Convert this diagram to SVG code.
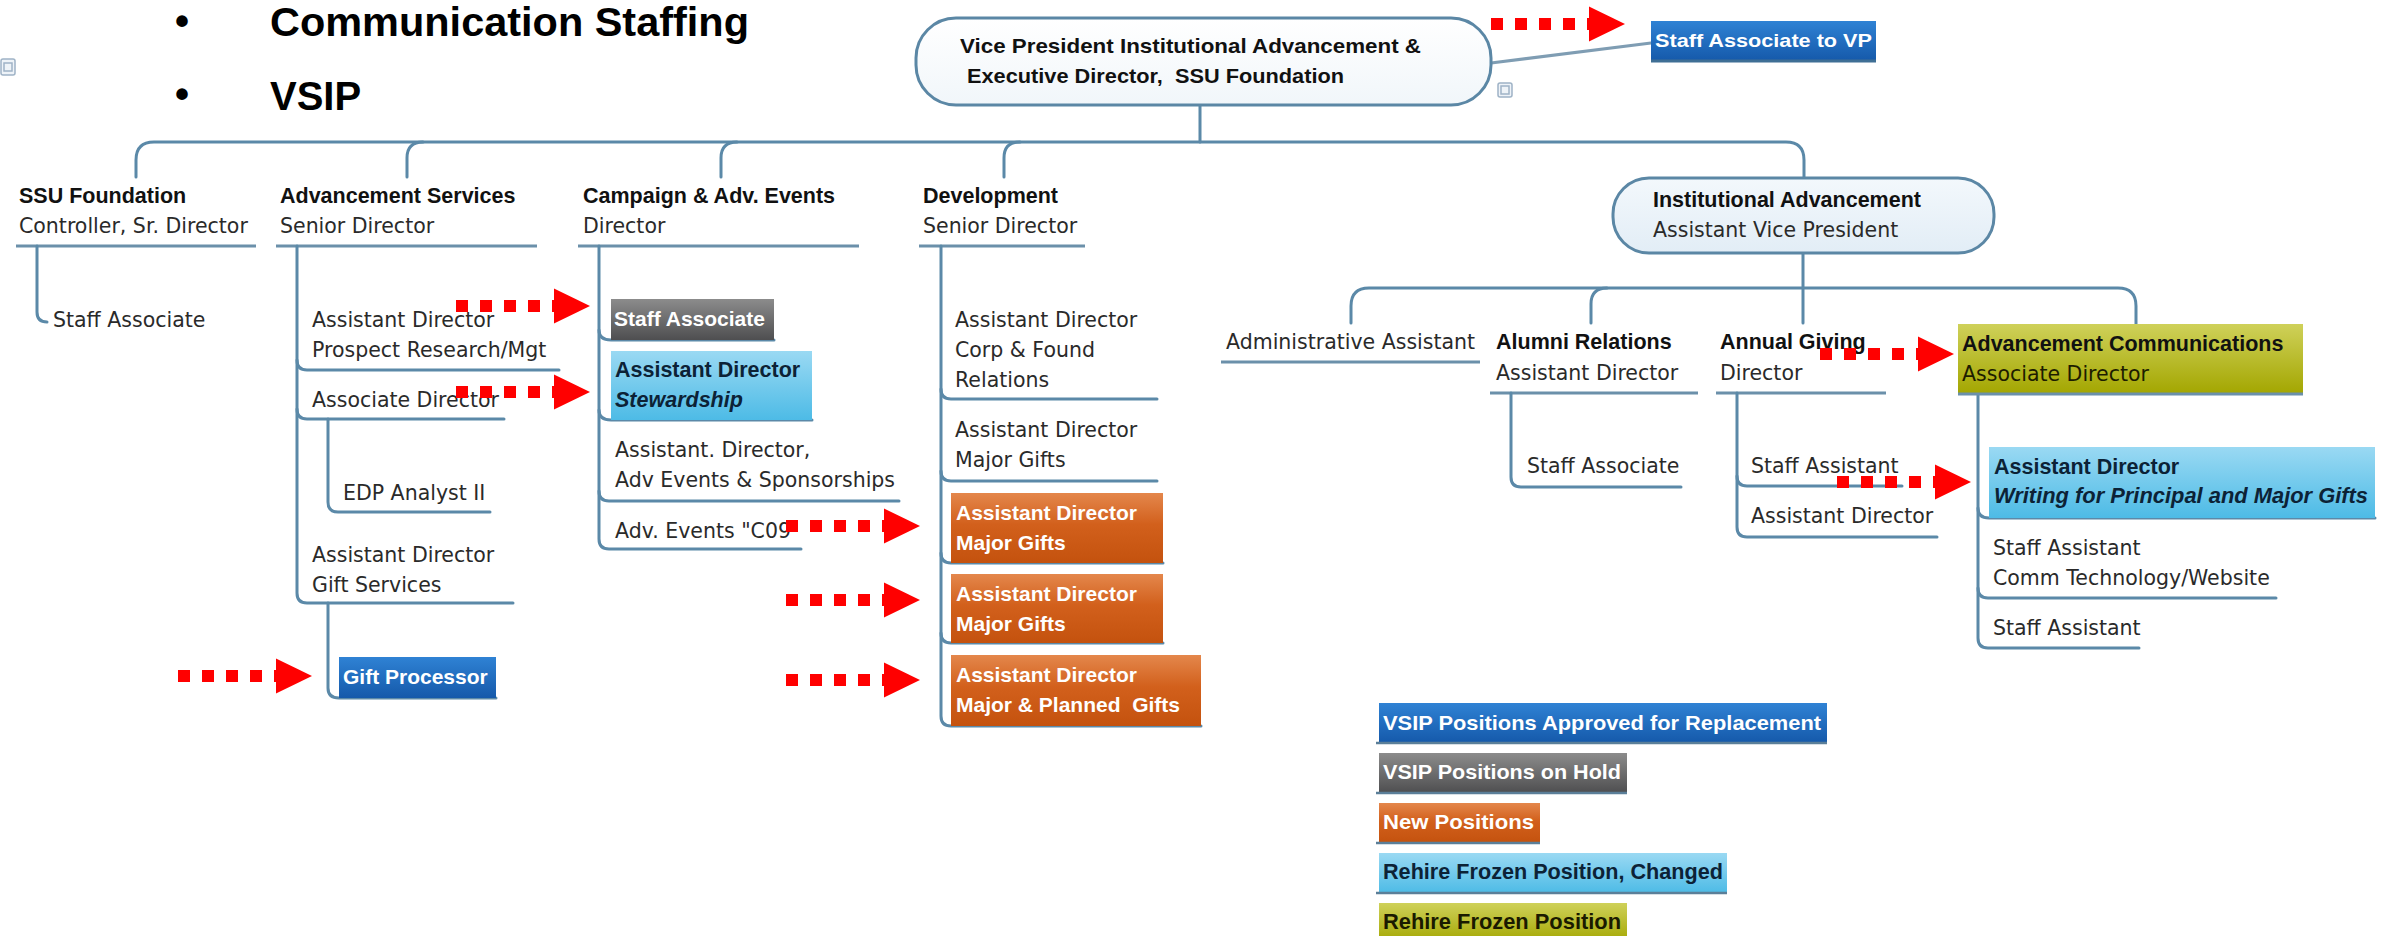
<svg xmlns="http://www.w3.org/2000/svg" width="2407" height="936" viewBox="0 0 2407 936">
<defs>
<style>
.reg{font-family:"DejaVu Sans","Liberation Sans",sans-serif;font-size:20.5px;fill:#2a2a2a}
.b{font-family:"Liberation Sans",Arial,sans-serif;font-size:21.5px;font-weight:bold;fill:#111}
.bw{font-family:"Liberation Sans",Arial,sans-serif;font-size:21px;font-weight:bold;fill:#fff}
.bd{font-family:"Liberation Sans",Arial,sans-serif;font-size:21.5px;font-weight:bold;fill:#0c2236}
.bi{font-style:italic}
.title{font-family:"Liberation Sans",Arial,sans-serif;font-size:40px;font-weight:bold;fill:#000}
.conn{fill:none;stroke:#5b89a8;stroke-width:3;stroke-linecap:round}
.ul{fill:none;stroke:#6b90aa;stroke-width:3}
.red{fill:none;stroke:#ff0000;stroke-width:12;stroke-dasharray:12 12}
.leg{fill:none;stroke:#5b7f99;stroke-width:2.5}
.icon{fill:#eef3f8;stroke:#9fb3c6;stroke-width:1.5}
</style>
<linearGradient id="gBlue" x1="0" y1="0" x2="0" y2="1"><stop offset="0" stop-color="#2f82d4"/><stop offset="1" stop-color="#1559aa"/></linearGradient>
<linearGradient id="gGray" x1="0" y1="0" x2="0" y2="1"><stop offset="0" stop-color="#8c8c8c"/><stop offset="1" stop-color="#4e4e50"/></linearGradient>
<linearGradient id="gOrange" x1="0" y1="0" x2="0" y2="1"><stop offset="0" stop-color="#e4874c"/><stop offset="0.45" stop-color="#d2601c"/><stop offset="1" stop-color="#c4520e"/></linearGradient>
<linearGradient id="gLBlue" x1="0" y1="0" x2="0" y2="1"><stop offset="0" stop-color="#9ad9f3"/><stop offset="1" stop-color="#4dbbe6"/></linearGradient>
<linearGradient id="gOlive" x1="0" y1="0" x2="0" y2="1"><stop offset="0" stop-color="#cfd15a"/><stop offset="1" stop-color="#a3a600"/></linearGradient>
<linearGradient id="gVP" x1="0" y1="0" x2="0" y2="1"><stop offset="0" stop-color="#ffffff"/><stop offset="1" stop-color="#f1f6fa"/></linearGradient>
<linearGradient id="gInst" x1="0" y1="0" x2="0" y2="1"><stop offset="0" stop-color="#f3f8fc"/><stop offset="1" stop-color="#e2edf6"/></linearGradient>
<marker id="ah" markerUnits="userSpaceOnUse" markerWidth="36" markerHeight="36" refX="0" refY="17.5" orient="auto" viewBox="0 0 36 35">
<path d="M0,0 L36,17.5 L0,35 Z" fill="#ff0000"/>
</marker>
</defs>
<rect width="2407" height="936" fill="#ffffff"/>

<g id="title">
<text class="title" x="175" y="35">•</text>
<text class="title" x="270" y="36" textLength="479" lengthAdjust="spacingAndGlyphs">Communication Staffing</text>
<text class="title" x="175" y="108">•</text>
<text class="title" x="270" y="110">VSIP</text>
</g>

<g id="icons">
<rect class="icon" x="1" y="59" width="14" height="16" rx="2"/>
<rect class="icon" x="4" y="63" width="8" height="8" fill="none"/>
<rect class="icon" x="1498" y="83" width="14" height="14" rx="2"/>
<rect class="icon" x="1501" y="86" width="8" height="8" fill="none"/>
</g>

<g id="connectors">
<path class="conn" d="M1200,105 L1200,142"/>
<path class="conn" d="M136,177 L136,160 Q136,142 154,142 L1786,142 Q1804,142 1804,160 L1804,178"/>
<path class="conn" d="M423,142 Q407,142 407,158 L407,177"/>
<path class="conn" d="M737,142 Q721,142 721,158 L721,177"/>
<path class="conn" d="M1020,142 Q1004,142 1004,158 L1004,177"/>
<path class="conn" d="M1491,63 L1651,43" style="stroke:#7f9db3"/>
<path class="conn" d="M1803,253 L1803,323"/>
<path class="conn" d="M1351,323 L1351,306 Q1351,288 1369,288 L2118,288 Q2136,288 2136,306 L2136,324"/>
<path class="conn" d="M1607,288 Q1591,288 1591,304 L1591,323"/>

<path class="ul" d="M16,246 L256,246"/>
<path class="conn" d="M37,246 L37,312 Q37,322 47,322"/>

<path class="ul" d="M276,246 L537,246"/>
<path class="conn" d="M297,246 L297,593 Q297,603 307,603 L513,603"/>
<path class="conn" d="M297,360 Q297,370 307,370 L559,370"/>
<path class="conn" d="M297,409 Q297,419 307,419 L504,419"/>
<path class="conn" d="M328,419 L328,502 Q328,512 338,512 L490,512"/>
<path class="conn" d="M328,603 L328,688 Q328,698 339,698 L496,698"/>

<path class="ul" d="M578,246 L859,246"/>
<path class="conn" d="M599,246 L599,539 Q599,549 609,549 L801,549"/>
<path class="conn" d="M599,330 Q599,340 611,340 L774,340"/>
<path class="conn" d="M599,410 Q599,420 611,420 L812,420"/>
<path class="conn" d="M599,491 Q599,501 609,501 L899,501"/>

<path class="ul" d="M919,246 L1085,246"/>
<path class="conn" d="M941,246 L941,716 Q941,726 951,726 L1201,726"/>
<path class="conn" d="M941,389 Q941,399 951,399 L1157,399"/>
<path class="conn" d="M941,471 Q941,481 951,481 L1157,481"/>
<path class="conn" d="M941,553 Q941,563 951,563 L1163,563"/>
<path class="conn" d="M941,633 Q941,643 951,643 L1163,643"/>

<path class="ul" d="M1221,362 L1480,362"/>
<path class="ul" d="M1490,393 L1698,393"/>
<path class="conn" d="M1511,393 L1511,477 Q1511,487 1521,487 L1681,487"/>
<path class="ul" d="M1716,393 L1886,393"/>
<path class="conn" d="M1737,393 L1737,527 Q1737,537 1747,537 L1937,537"/>
<path class="conn" d="M1737,476 Q1737,486 1747,486 L1902,486"/>
<path class="conn" d="M1978,394 L1978,638 Q1978,648 1988,648 L2139,648"/>
<path class="conn" d="M1978,508 Q1978,518 1989,518 L2375,518"/>
<path class="conn" d="M1978,588 Q1978,598 1988,598 L2276,598"/>
</g>

<g id="vp">
<rect x="916" y="18" width="575" height="87" rx="40" ry="40" fill="url(#gVP)" stroke="#5b87a5" stroke-width="3"/>
<text class="b" x="960" y="53" style="font-size:20.5px" textLength="461" lengthAdjust="spacingAndGlyphs">Vice President Institutional Advancement &amp;</text>
<text class="b" x="967" y="83" style="font-size:20.5px;white-space:pre" textLength="377" lengthAdjust="spacingAndGlyphs">Executive Director,  SSU Foundation</text>
</g>

<g id="staff-vp">
<rect x="1651" y="21" width="225" height="40" fill="url(#gBlue)"/>
<path class="ul" d="M1651,61 L1876,61" style="stroke:#3f6f95"/>
<text class="bw" x="1655" y="47" style="font-size:19px" textLength="217" lengthAdjust="spacingAndGlyphs">Staff Associate to VP</text>
</g>

<g id="ssu">
<text class="b" x="19" y="203">SSU Foundation</text>
<text class="reg" x="19" y="233">Controller, Sr. Director</text>
</g>
<g id="ssu-staff"><text class="reg" x="53" y="327">Staff Associate</text></g>

<g id="advserv">
<text class="b" x="280" y="203">Advancement Services</text>
<text class="reg" x="280" y="233">Senior Director</text>
</g>
<g id="as-prospect">
<text class="reg" x="312" y="327">Assistant Director</text>
<text class="reg" x="312" y="357">Prospect Research/Mgt</text>
</g>
<g id="as-assoc"><text class="reg" x="312" y="407">Associate Director</text></g>
<g id="as-edp"><text class="reg" x="343" y="500">EDP Analyst II</text></g>
<g id="as-gift">
<text class="reg" x="312" y="562">Assistant Director</text>
<text class="reg" x="312" y="592">Gift Services</text>
</g>
<g id="as-giftproc">
<rect x="339" y="657" width="157" height="41" fill="url(#gBlue)"/>
<text class="bw" x="343" y="684">Gift Processor</text>
</g>

<g id="campaign">
<text class="b" x="583" y="203">Campaign &amp; Adv. Events</text>
<text class="reg" x="583" y="233">Director</text>
</g>
<g id="ca-staff">
<rect x="611" y="299" width="163" height="41" fill="url(#gGray)"/>
<text class="bw" x="614" y="326">Staff Associate</text>
</g>
<g id="ca-steward">
<rect x="611" y="351" width="201" height="69" fill="url(#gLBlue)"/>
<text class="bd" x="615" y="377">Assistant Director</text>
<text class="bd bi" x="615" y="407">Stewardship</text>
</g>
<g id="ca-events">
<text class="reg" x="615" y="457">Assistant. Director,</text>
<text class="reg" x="615" y="487">Adv Events &amp; Sponsorships</text>
</g>
<g id="ca-c09"><text class="reg" x="615" y="538">Adv. Events "C09</text></g>

<g id="development">
<text class="b" x="923" y="203">Development</text>
<text class="reg" x="923" y="233">Senior Director</text>
</g>
<g id="dev-corp">
<text class="reg" x="955" y="327">Assistant Director</text>
<text class="reg" x="955" y="357">Corp &amp; Found</text>
<text class="reg" x="955" y="387">Relations</text>
</g>
<g id="dev-major">
<text class="reg" x="955" y="437">Assistant Director</text>
<text class="reg" x="955" y="467">Major Gifts</text>
</g>
<g id="dev-new1">
<rect x="951" y="493" width="212" height="70" fill="url(#gOrange)"/>
<text class="bw" x="956" y="520">Assistant Director</text>
<text class="bw" x="956" y="550">Major Gifts</text>
</g>
<g id="dev-new2">
<rect x="951" y="574" width="212" height="69" fill="url(#gOrange)"/>
<text class="bw" x="956" y="601">Assistant Director</text>
<text class="bw" x="956" y="631">Major Gifts</text>
</g>
<g id="dev-new3">
<rect x="951" y="655" width="250" height="71" fill="url(#gOrange)"/>
<text class="bw" x="956" y="682">Assistant Director</text>
<text class="bw" x="956" y="712" style="white-space:pre">Major &amp; Planned  Gifts</text>
</g>

<g id="inst">
<rect x="1613" y="178" width="381" height="75" rx="36" ry="36" fill="url(#gInst)" stroke="#5b87a5" stroke-width="3"/>
<text class="b" x="1653" y="207">Institutional Advancement</text>
<text class="reg" x="1653" y="237">Assistant Vice President</text>
</g>
<g id="admin"><text class="reg" x="1226" y="349">Administrative Assistant</text></g>
<g id="alumni">
<text class="b" x="1496" y="349">Alumni Relations</text>
<text class="reg" x="1496" y="380">Assistant Director</text>
</g>
<g id="al-staff"><text class="reg" x="1527" y="473">Staff Associate</text></g>
<g id="annual">
<text class="b" x="1720" y="349">Annual Giving</text>
<text class="reg" x="1720" y="380">Director</text>
</g>
<g id="an-staff"><text class="reg" x="1751" y="473">Staff Assistant</text></g>
<g id="an-asst"><text class="reg" x="1751" y="523">Assistant Director</text></g>
<g id="advcomm">
<rect x="1958" y="324" width="345" height="70" fill="url(#gOlive)"/>
<path class="ul" d="M1958,394 L2303,394"/>
<text class="b" x="1962" y="351">Advancement Communications</text>
<text class="reg" x="1962" y="381" style="fill:#1d1d00">Associate Director</text>
</g>
<g id="ac-writing">
<rect x="1989" y="447" width="386" height="71" fill="url(#gLBlue)"/>
<text class="bd" x="1994" y="474">Assistant Director</text>
<text class="bd bi" x="1994" y="503" textLength="374" lengthAdjust="spacingAndGlyphs">Writing for Principal and Major Gifts</text>
</g>
<g id="ac-comm">
<text class="reg" x="1993" y="555">Staff Assistant</text>
<text class="reg" x="1993" y="585">Comm Technology/Website</text>
</g>
<g id="ac-staff"><text class="reg" x="1993" y="635">Staff Assistant</text></g>

<g id="legend">
<rect x="1379" y="703" width="448" height="40" fill="url(#gBlue)"/>
<path class="leg" d="M1376,743 L1827,743"/>
<text class="bw" x="1383" y="730" textLength="438" lengthAdjust="spacingAndGlyphs">VSIP Positions Approved for Replacement</text>
<rect x="1379" y="753" width="248" height="40" fill="url(#gGray)"/>
<path class="leg" d="M1376,793 L1627,793"/>
<text class="bw" x="1383" y="779" textLength="238" lengthAdjust="spacingAndGlyphs">VSIP Positions on Hold</text>
<rect x="1379" y="803" width="161" height="40" fill="url(#gOrange)"/>
<path class="leg" d="M1376,843 L1540,843"/>
<text class="bw" x="1383" y="829" textLength="151" lengthAdjust="spacingAndGlyphs">New Positions</text>
<rect x="1379" y="853" width="348" height="40" fill="url(#gLBlue)"/>
<path class="leg" d="M1376,893 L1727,893"/>
<text class="bd" x="1383" y="879" style="font-size:21.5px" textLength="340" lengthAdjust="spacingAndGlyphs">Rehire Frozen Position, Changed</text>
<rect x="1379" y="903" width="248" height="40" fill="url(#gOlive)"/>
<text class="bd" x="1383" y="929" style="font-size:21.5px;fill:#1a1a00" textLength="238" lengthAdjust="spacingAndGlyphs">Rehire Frozen Position</text>
</g>

<g id="red-arrows">
<line class="red" x1="1491" y1="24" x2="1589" y2="24" marker-end="url(#ah)"/>
<line class="red" x1="456" y1="306" x2="554" y2="306" marker-end="url(#ah)"/>
<line class="red" x1="456" y1="392" x2="554" y2="392" marker-end="url(#ah)"/>
<line class="red" x1="786" y1="526" x2="884" y2="526" marker-end="url(#ah)"/>
<line class="red" x1="786" y1="600" x2="884" y2="600" marker-end="url(#ah)"/>
<line class="red" x1="786" y1="680" x2="884" y2="680" marker-end="url(#ah)"/>
<line class="red" x1="178" y1="676" x2="276" y2="676" marker-end="url(#ah)"/>
<line class="red" x1="1820" y1="354" x2="1918" y2="354" marker-end="url(#ah)"/>
<line class="red" x1="1837" y1="482" x2="1935" y2="482" marker-end="url(#ah)"/>
</g>
</svg>
